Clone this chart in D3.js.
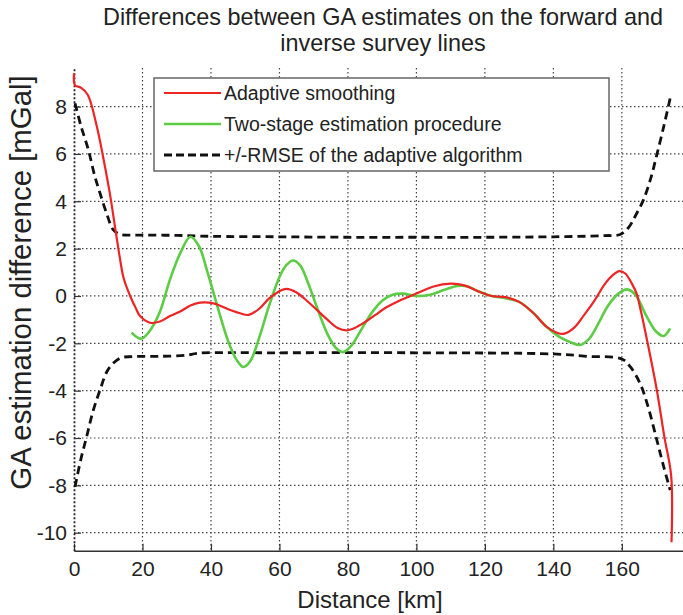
<!DOCTYPE html>
<html>
<head>
<meta charset="utf-8">
<script src="https://cdn.jsdelivr.net/npm/d3@7"></script>
<style>
  html, body { margin: 0; padding: 0; background: #fff; }
  svg { display: block; font-family: "Liberation Sans", Arial, sans-serif; }
</style>
</head>
<body>
<svg id="chart" width="683" height="615"></svg>
<script>
// ---------- data ----------
const titleLines = ["Differences between GA estimates on the forward and", "inverse survey lines"];
const xLabel = "Distance [km]";
const yLabel = "GA estimation difference [mGal]";
const xTicks = [0, 20, 40, 60, 80, 100, 120, 140, 160];
const yTicks = [-10, -8, -6, -4, -2, 0, 2, 4, 6, 8];
const seriesNames = ["Adaptive smoothing", "Two-stage estimation procedure", "+/-RMSE of the adaptive algorithm"];

const adaptiveDist = [0, 0.3, 2, 4, 6.6, 8.6, 10.5, 12, 13.4, 14.5, 16.4, 18, 19.3, 22.2, 25.1, 28, 31, 34, 36.8, 40.7, 45.6, 48.5, 51, 54, 57, 60, 62, 65, 68, 71, 74, 77, 79.5, 82, 85, 88, 91, 95, 100, 105, 110, 114, 118, 122, 126, 130, 134, 138, 141, 143, 146, 149, 152, 155, 157.5, 159.3, 161, 163, 164.3, 165.5, 167.4, 170.2, 172.4, 174.4, 174.5];
const adaptiveVal  = [9.4, 8.9, 8.8, 8.5, 7.2, 5.8, 4.3, 2.9, 1.6, 0.75, 0.0, -0.5, -0.85, -1.13, -1.08, -0.85, -0.66, -0.4, -0.28, -0.31, -0.59, -0.73, -0.8, -0.55, -0.1, 0.2, 0.3, 0.15, -0.2, -0.6, -1.0, -1.35, -1.45, -1.35, -1.1, -0.8, -0.5, -0.2, 0.1, 0.4, 0.52, 0.45, 0.2, 0.0, -0.05, -0.25, -0.7, -1.3, -1.55, -1.6, -1.35, -0.8, -0.2, 0.5, 0.9, 1.05, 0.95, 0.5, 0.1, -0.6, -1.9, -3.97, -5.94, -7.6, -10.4];

const twoStageDist = [16.8, 18.5, 19.8, 22, 25, 28, 31, 34, 36.5, 39, 42, 45, 47.5, 49.5, 51.5, 54, 57, 60, 62, 64, 66, 68.5, 71, 74, 76.5, 78.6, 81, 84, 87, 90, 93, 96, 100, 104, 108, 112, 115, 118, 122, 126, 130, 134, 138, 142, 145, 147.8, 150.5, 153, 156, 159, 161.5, 164, 167, 170, 172.2, 174.1];
const twoStageVal  = [-1.55, -1.75, -1.8, -1.5, -0.7, 0.68, 1.8, 2.5, 2.1, 1.0, -0.5, -1.9, -2.7, -3.0, -2.75, -1.8, -0.4, 0.8, 1.3, 1.5, 1.3, 0.5, -0.5, -1.6, -2.2, -2.37, -2.1, -1.4, -0.7, -0.2, 0.05, 0.1, 0.0, 0.05, 0.25, 0.42, 0.4, 0.2, 0.0, -0.1, -0.25, -0.7, -1.3, -1.75, -1.95, -2.07, -1.8, -1.2, -0.4, 0.1, 0.28, 0.05, -0.8, -1.5, -1.69, -1.37];

const rmseUpperDist = [0.3, 2, 4.2, 6, 7.6, 9.5, 11.5, 13.5, 16, 20, 30, 40, 60, 80, 100, 120, 140, 155, 159.5, 162, 164, 166.3, 168.5, 170.2, 172.3, 174.1];
const rmseUpperVal  = [8.14, 7.2, 6.17, 5.1, 4.34, 3.5, 2.79, 2.6, 2.57, 2.57, 2.56, 2.52, 2.5, 2.48, 2.48, 2.48, 2.5, 2.55, 2.6, 2.9, 3.4, 4.06, 5.0, 5.96, 7.2, 8.35];
const rmseLowerDist = [0.3, 2, 3.7, 5.5, 7.6, 10, 13.4, 17, 25, 33, 36, 60, 100, 140, 150, 160, 162.5, 165.3, 167.5, 170.2, 172.2, 174.1];
const rmseLowerVal  = [-8.06, -6.9, -5.94, -4.9, -3.97, -3.1, -2.63, -2.56, -2.55, -2.5, -2.42, -2.4, -2.4, -2.45, -2.55, -2.66, -3.0, -3.69, -4.6, -6.08, -7.2, -8.2];

// ---------- layout ----------
const svg = d3.select("#chart");
const pLeft = 74, pRight = 683.5, pTop = 68, pBottom = 550.7;
const x = d3.scaleLinear().domain([0, 178]).range([pLeft, pRight]);
const y = d3.scaleLinear().domain([-10.76, 9.63]).range([pBottom, pTop]);

const zip = (xs, ys) => xs.map((d, i) => [d, ys[i]]);
const line = d3.line().x(d => x(d[0])).y(d => y(d[1])).curve(d3.curveCatmullRom.alpha(0.5));

// grid
const grid = svg.append("g");
grid.selectAll(".hg").data(yTicks).join("line")
  .attr("x1", pLeft).attr("x2", 683).attr("y1", d => y(d)).attr("y2", d => y(d))
  .attr("stroke", "#444").attr("stroke-width", 1.2).attr("stroke-dasharray", "1.5,2.5");
grid.selectAll(".vg").data(xTicks.filter(d => d > 0)).join("line")
  .attr("x1", d => x(d)).attr("x2", d => x(d)).attr("y1", pTop).attr("y2", pBottom)
  .attr("stroke", "#444").attr("stroke-width", 1.2).attr("stroke-dasharray", "1.5,2.5");

// axes
const fmt = d => String(d);
const xAxis = d3.axisBottom(x).tickValues(xTicks).tickFormat(fmt).tickSizeInner(-7).tickSizeOuter(0).tickPadding(10);
const yAxis = d3.axisLeft(y).tickValues(yTicks).tickFormat(fmt).tickSizeInner(-7).tickSizeOuter(0).tickPadding(7);

const gx = svg.append("g").attr("transform", `translate(0,${pBottom})`).call(xAxis);
gx.select(".domain").attr("stroke", "#333").attr("stroke-width", 1.5);
gx.selectAll(".tick line").attr("stroke", "#333").attr("stroke-width", 1.2);
gx.selectAll(".tick text").attr("font-size", 21).attr("fill", "#222").style("font-family", "Liberation Sans, Arial, sans-serif");

const gy = svg.append("g").attr("transform", `translate(${pLeft},0)`).call(yAxis);
gy.select(".domain").attr("stroke", "#222").attr("stroke-width", 1.8).attr("stroke-dasharray", "2,2");
gy.selectAll(".tick line").attr("stroke", "#333").attr("stroke-width", 1.2);
gy.selectAll(".tick text").attr("font-size", 21).attr("fill", "#222").style("font-family", "Liberation Sans, Arial, sans-serif");

// series
const plot = svg.append("g");
plot.append("path").datum(zip(rmseUpperDist, rmseUpperVal)).attr("d", line)
  .attr("fill", "none").attr("stroke", "#111").attr("stroke-width", 2.8).attr("stroke-dasharray", "8,5");
plot.append("path").datum(zip(rmseLowerDist, rmseLowerVal)).attr("d", line)
  .attr("fill", "none").attr("stroke", "#111").attr("stroke-width", 2.8).attr("stroke-dasharray", "8,5");
plot.append("path").datum(zip(twoStageDist, twoStageVal)).attr("d", line)
  .attr("fill", "none").attr("stroke", "#5ccc45").attr("stroke-width", 2.6);
plot.append("path").datum(zip(adaptiveDist, adaptiveVal)).attr("d", line)
  .attr("fill", "none").attr("stroke", "#ee2424").attr("stroke-width", 2.2);

// legend
const lg = svg.append("g");
lg.append("rect").attr("x", 154).attr("y", 78).attr("width", 455).attr("height", 93)
  .attr("fill", "#fff").attr("stroke", "#666").attr("stroke-width", 1.5);
const legendY = [93, 124, 155];
const legendStyles = [
  { color: "#ee2424", width: 2.2, dash: null },
  { color: "#5ccc45", width: 2.6, dash: null },
  { color: "#111", width: 2.8, dash: "8,4" }
];
seriesNames.forEach((name, i) => {
  const s = legendStyles[i];
  const l = lg.append("line").attr("x1", 164).attr("x2", 221).attr("y1", legendY[i]).attr("y2", legendY[i])
    .attr("stroke", s.color).attr("stroke-width", s.width);
  if (s.dash) l.attr("stroke-dasharray", s.dash);
  lg.append("text").attr("x", 224).attr("y", legendY[i]).attr("dy", "0.35em")
    .attr("font-size", 19.5).attr("fill", "#222").text(name);
});

// title
svg.append("g").selectAll("text").data(titleLines).join("text")
  .attr("x", 383).attr("y", (d, i) => 25 + i * 26)
  .attr("text-anchor", "middle").attr("font-size", 23.4).attr("fill", "#222").text(d => d);

// axis labels
svg.append("text").attr("x", 370).attr("y", 608).attr("text-anchor", "middle")
  .attr("font-size", 24).attr("fill", "#222").text(xLabel);
svg.append("text").attr("transform", `translate(31,${(78 + 487) / 2}) rotate(-90)`)
  .attr("text-anchor", "middle").attr("font-size", 29.4).attr("fill", "#222").text(yLabel);
</script>
</body>
</html>
